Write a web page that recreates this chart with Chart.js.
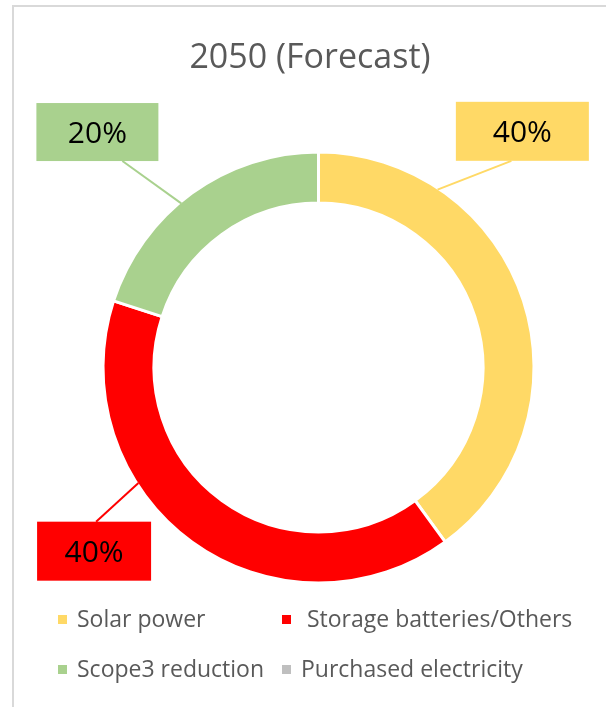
<!DOCTYPE html>
<html>
<head>
<meta charset="utf-8">
<script src="https://cdn.jsdelivr.net/npm/chart.js@4.4.1/dist/chart.umd.min.js"></script>
<style>
    html, body { margin: 0; padding: 0; background: #fff; overflow: hidden; }
    canvas { display: block; }
</style>
</head>
<body>
<canvas id="forecastChart" width="606" height="707"></canvas>
<script>
// Dados do gráfico
const chartTitle = '2050 (Forecast)';
const categories = ['Solar power', ' Storage batteries/Others', 'Scope3 reduction', 'Purchased electricity'];
const shares = [40, 40, 20, 0];
const sliceColors = ['#FFD966', '#FF0000', '#A9D18E', '#BFBFBF'];

// Onde cada rótulo fica (graus a partir do topo, sentido horário)
const callouts = [
    { anchorDeg: 33.8, boxDeg: 40.8, boxDist: 312, w: 133, h: 59, tipDx: -11 },
    { anchorDeg: 237.3, boxDeg: 230.7, boxDist: 290, w: 114, h: 59, tipDx: 2 },
    { anchorDeg: 320.1, boxDeg: 316.8, boxDist: 323, w: 122, h: 58, tipDx: 25 },
    null
];

const FONT = '"Open Sans", "Noto Sans", sans-serif';

function polar(cx, cy, r, deg) {
    const a = deg * Math.PI / 180;
    return { x: cx + r * Math.sin(a), y: cy - r * Math.cos(a) };
}

const framePlugin = {
    id: 'frame',
    beforeDraw(chart) {
        const ctx = chart.ctx;
        ctx.save();
        ctx.strokeStyle = '#D9D9D9';
        ctx.lineWidth = 2;
        ctx.beginPath();
        ctx.moveTo(13, chart.height + 2);
        ctx.lineTo(13, 6);
        ctx.lineTo(chart.width + 2, 6);
        ctx.stroke();

        ctx.fillStyle = '#595959';
        ctx.font = '34px ' + FONT;
        ctx.textAlign = 'center';
        ctx.textBaseline = 'alphabetic';
        ctx.fillText(chartTitle, 310, 68);
        ctx.restore();
    }
};

const calloutPlugin = {
    id: 'callouts',
    afterDatasetsDraw(chart) {
        const ctx = chart.ctx;
        const meta = chart.getDatasetMeta(0);
        const values = chart.data.datasets[0].data;
        meta.data.forEach((arc, i) => {
            const c = callouts[i];
            if (!c || !values[i]) return;
            const { x, y, outerRadius } = arc.getProps(['x', 'y', 'outerRadius'], true);
            const total = values.reduce((a, b) => a + b, 0);
            const label = Math.round(values[i] / total * 100) + '%';
            const anchor = polar(x, y, outerRadius - 1.5, c.anchorDeg);
            const box = polar(x, y, c.boxDist, c.boxDeg);
            const tipY = box.y > anchor.y ? box.y - c.h / 2 : box.y + c.h / 2;

            ctx.save();
            ctx.strokeStyle = sliceColors[i];
            ctx.lineWidth = 2;
            ctx.beginPath();
            ctx.moveTo(anchor.x, anchor.y);
            ctx.lineTo(box.x + c.tipDx, tipY);
            ctx.stroke();

            ctx.fillStyle = sliceColors[i];
            ctx.fillRect(box.x - c.w / 2, box.y - c.h / 2, c.w, c.h);

            ctx.fillStyle = '#000';
            ctx.font = '30px ' + FONT;
            ctx.textAlign = 'center';
            ctx.textBaseline = 'middle';
            ctx.fillText(label, box.x, box.y + 2);
            ctx.restore();
        });
    }
};

const legendPlugin = {
    id: 'gridLegend',
    afterDraw(chart) {
        const ctx = chart.ctx;
        const cols = [58, 282];
        const rows = [627, 677];
        ctx.save();
        ctx.font = '23px ' + FONT;
        ctx.textBaseline = 'alphabetic';
        ctx.textAlign = 'left';
        chart.data.labels.forEach((name, i) => {
            const cx = cols[i % 2];
            const cy = rows[Math.floor(i / 2)];
            ctx.fillStyle = sliceColors[i];
            ctx.fillRect(cx, cy - 12, 9, 9);
            ctx.fillStyle = '#595959';
            ctx.fillText(name, cx + 19, cy);
        });
        ctx.restore();
    }
};

const ctx = document.getElementById('forecastChart').getContext('2d');
new Chart(ctx, {
    type: 'doughnut',
    data: {
        labels: categories,
        datasets: [{
            data: shares,
            backgroundColor: sliceColors,
            borderColor: '#FFFFFF',
            borderWidth: 3
        }]
    },
    options: {
        responsive: false,
        devicePixelRatio: 1,
        animation: false,
        radius: 215.5,
        cutout: '76.3%',
        layout: {
            padding: { left: 100, right: 69, top: 150, bottom: 122 }
        },
        plugins: {
            legend: { display: false },
            tooltip: { enabled: false },
            title: { display: false }
        }
    },
    plugins: [framePlugin, calloutPlugin, legendPlugin]
});
</script>
</body>
</html>
